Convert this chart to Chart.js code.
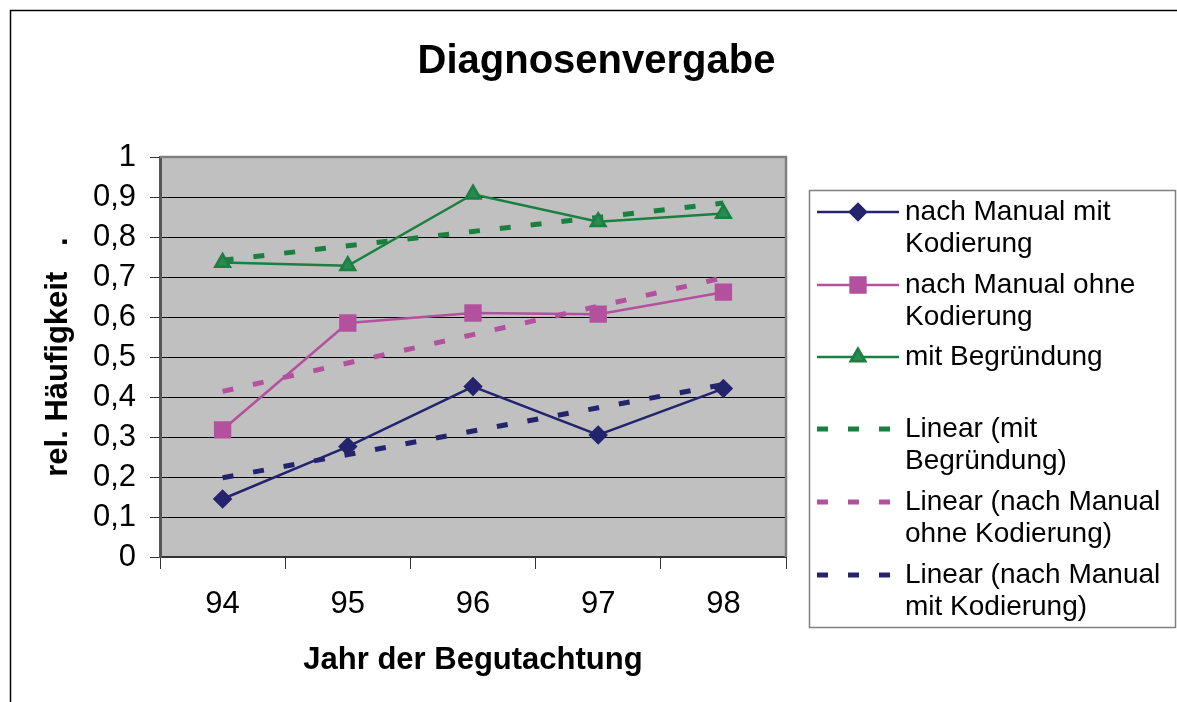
<!DOCTYPE html>
<html>
<head>
<meta charset="utf-8">
<script src="https://cdn.jsdelivr.net/npm/chart.js@4"></script>
<style>
  html, body { margin: 0; padding: 0; background: #fff; }
  #wrap { width: 1177px; height: 702px; position: relative; }
</style>
</head>
<body>
<div id="wrap"><canvas id="Diagnosen" width="1177" height="702"></canvas></div>
<script>
const years = ['94', '95', '96', '97', '98'];
const mitKodierung = [0.145, 0.276, 0.426, 0.305, 0.421];
const ohneKodierung = [0.318, 0.585, 0.610, 0.607, 0.662];
const mitBegruendung = [0.736, 0.728, 0.907, 0.838, 0.859];
// trend lines
const trendBegruendung = [0.742, 0.778, 0.814, 0.849, 0.885];
const trendOhne = [0.414, 0.485, 0.556, 0.627, 0.698];
const trendMit = [0.198, 0.256, 0.315, 0.373, 0.431];
const yTickLabels = ['0', '0,1', '0,2', '0,3', '0,4', '0,5', '0,6', '0,7', '0,8', '0,9', '1'];
const legendLabels = [
    ['nach Manual mit', 'Kodierung'],
    ['nach Manual ohne', 'Kodierung'],
    ['mit Begründung'],
    ['Linear (mit', 'Begründung)'],
    ['Linear (nach Manual', 'ohne Kodierung)'],
    ['Linear (nach Manual', 'mit Kodierung)']
];

let navy = '#24246E';
let pink = '#B4519F';
let green = '#1A7F3F';
let fontFam = "'Liberation Sans', Arial, sans-serif";

// background of plot, outer frame, plot border
const frame = {
    id: 'frame',
    beforeDraw(chart) {
        const c = chart.ctx, a = chart.chartArea;
        c.save();
        c.fillStyle = '#C0C0C0';
        c.fillRect(a.left, a.top, a.right - a.left, a.bottom - a.top);
        c.strokeStyle = '#000';
        c.lineWidth = 1.5;
        c.beginPath();
        c.moveTo(10.5, 702);
        c.lineTo(10.5, 10.5);
        c.lineTo(1177, 10.5);
        c.stroke();
        c.restore();
    },
    beforeDatasetsDraw(chart) {
        const c = chart.ctx, a = chart.chartArea;
        c.save();
        c.strokeStyle = '#808080';
        c.lineWidth = 2.5;
        c.beginPath();
        c.moveTo(a.left, a.top);
        c.lineTo(a.right, a.top);
        c.lineTo(a.right, a.bottom);
        c.stroke();
        c.restore();
    }
};

// legend box on the right
const sideLegend = {
    id: 'sideLegend',
    afterDraw(chart) {
        const c = chart.ctx;
        const rows = [212, 285, 357, 429, 502, 575];
        c.save();
        c.strokeStyle = '#808080';
        c.lineWidth = 1.5;
        c.strokeRect(809.5, 190.5, 366, 437);
        c.font = '28px ' + fontFam;
        c.textBaseline = 'middle';
        c.fillStyle = '#000';
        chart.data.datasets.forEach((ds, i) => {
            const y = rows[i];
            c.strokeStyle = ds.borderColor;
            if (ds.borderDash) {
                c.lineWidth = 5;
                c.setLineDash(ds.borderDash);
                c.beginPath();
                c.moveTo(817, y);
                c.lineTo(899, y);
                c.stroke();
                c.setLineDash([]);
            } else {
                c.lineWidth = 2.5;
                c.beginPath();
                c.moveTo(817, y);
                c.lineTo(899, y);
                c.stroke();
                c.fillStyle = ds.pointBackgroundColor;
                c.strokeStyle = ds.pointBorderColor;
                Chart.helpers.drawPoint(c, {
                    pointStyle: ds.pointStyle,
                    radius: ds.pointRadius,
                    rotation: 0,
                    borderWidth: 1
                }, 858, y);
            }
            c.fillStyle = '#000';
            legendLabels[i].forEach((t, j) => c.fillText(t, 905, y + j * 32));
        });
        c.restore();
    }
};

var ctx = document.getElementById('Diagnosen').getContext('2d');
var myLineChart = new Chart(ctx, {
    type: 'line',
    data: {
        labels: years,
        datasets: [{
            label: 'nach Manual mit Kodierung',
            data: mitKodierung,
            borderColor: navy,
            borderWidth: 2.5,
            pointStyle: 'rectRot',
            pointRadius: 8,
            pointBackgroundColor: navy,
            pointBorderColor: navy,
            tension: 0
        }, {
            label: 'nach Manual ohne Kodierung',
            data: ohneKodierung,
            borderColor: pink,
            borderWidth: 2.5,
            pointStyle: 'rect',
            pointRadius: 10.5,
            pointBackgroundColor: pink,
            pointBorderColor: pink,
            tension: 0
        }, {
            label: 'mit Begründung',
            data: mitBegruendung,
            borderColor: green,
            borderWidth: 2.5,
            pointStyle: 'triangle',
            pointRadius: 8.5,
            pointBackgroundColor: '#2A8A55',
            pointBorderColor: green,
            tension: 0
        }, {
            label: 'Linear (mit Begründung)',
            data: trendBegruendung,
            borderColor: green,
            borderWidth: 5,
            borderDash: [11, 20],
            borderCapStyle: 'butt',
            pointRadius: 0,
            tension: 0
        }, {
            label: 'Linear (nach Manual ohne Kodierung)',
            data: trendOhne,
            borderColor: pink,
            borderWidth: 5,
            borderDash: [11, 20],
            borderCapStyle: 'butt',
            pointRadius: 0,
            tension: 0
        }, {
            label: 'Linear (nach Manual mit Kodierung)',
            data: trendMit,
            borderColor: navy,
            borderWidth: 5,
            borderDash: [11, 20],
            borderCapStyle: 'butt',
            pointRadius: 0,
            tension: 0
        }]
    },
    options: {
        responsive: false,
        animation: false,
        layout: { padding: { left: 16, right: 0, top: 0, bottom: 0 } },
        plugins: {
            legend: { display: false },
            tooltip: { enabled: false },
            title: {
                display: true,
                text: 'Diagnosenvergabe',
                color: '#000',
                font: { family: fontFam, size: 40, weight: 'bold' },
                padding: { top: 38, bottom: 71 }
            }
        },
        scales: {
            x: {
                offset: true,
                grid: { display: true, drawOnChartArea: false, offset: true, tickLength: 12, color: '#333' },
                border: { color: '#333', width: 2 },
                ticks: { color: '#000', font: { family: fontFam, size: 31 }, padding: 17 },
                title: {
                    display: true,
                    text: 'Jahr der Begutachtung',
                    color: '#000',
                    font: { family: fontFam, size: 31, weight: 'bold' },
                    padding: { top: 0, bottom: 23 }
                },
                afterFit(scale) { scale.height = 145; }
            },
            y: {
                min: 0,
                max: 1,
                ticks: {
                    stepSize: 0.1,
                    autoSkip: false,
                    color: '#000',
                    font: { family: fontFam, size: 31 },
                    padding: 14,
                    callback: (v, i) => yTickLabels[i]
                },
                grid: { color: '#000', lineWidth: 1, tickLength: 10, tickColor: '#333' },
                border: { color: '#555', width: 3 },
                title: {
                    display: true,
                    text: 'rel. Häufigkeit   .',
                    color: '#000',
                    font: { family: fontFam, size: 31, weight: 'bold' },
                    padding: { top: 24, bottom: 0 }
                },
                afterFit(scale) { scale.width = 144; }
            },
            // empty right axis that keeps room for the legend box
            side: {
                position: 'right',
                min: 0,
                max: 1,
                grid: { display: false },
                border: { display: false },
                ticks: { display: false },
                afterFit(scale) { scale.width = 391; }
            }
        }
    },
    plugins: [frame, sideLegend]
});
</script>
</body>
</html>
